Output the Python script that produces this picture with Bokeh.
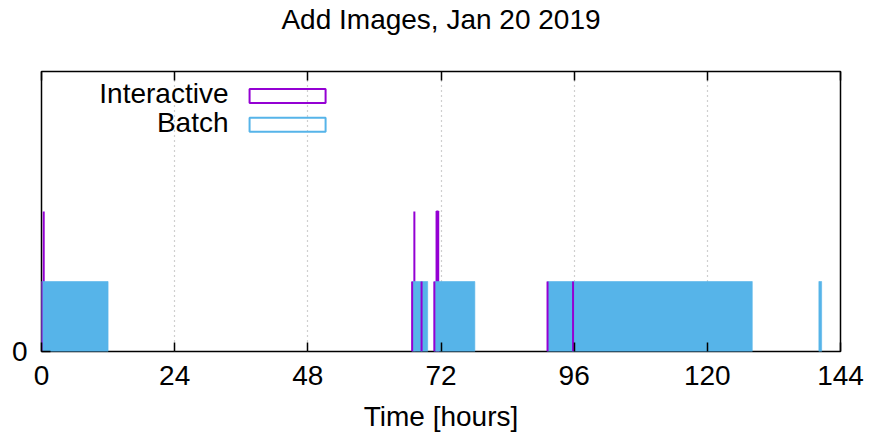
from bokeh.plotting import figure
from bokeh.models import Range1d, FixedTicker, LinearAxis, Label, BoxAnnotation, ColumnDataSource
from bokeh.embed import file_html
from bokeh.resources import INLINE

# ---------------- data ----------------
TITLE = "Add Images, Jan 20 2019"
X_LABEL = "Time [hours]"
X_TICKS = [0, 24, 48, 72, 96, 120, 144]
Y_TICKS = [0]
X_MAX = 144
Y_MAX = 4

batch_start = [0.0, 66.8, 68.5, 70.8, 91.2, 95.8, 140.1]
batch_end = [12.0, 68.5, 69.6, 78.1, 95.8, 128.1, 140.6]
batch_level = [1, 1, 1, 1, 1, 1, 1]

interactive_start = [0.0, 0.4, 66.8, 67.2, 68.5, 70.8, 71.2, 91.2, 95.8]
interactive_end = [0.0, 0.4, 66.8, 67.2, 68.5, 70.8, 71.5, 91.2, 95.8]
interactive_level = [1, 2, 1, 2, 1, 1, 2, 1, 1]

LEGEND_LABELS = ["Interactive", "Batch"]

# ---------------- style ----------------
FONT = "Liberation Sans"
FS = "28px"
PURPLE = "#9400d3"
BLUE = "#56b4e9"

p = figure(width=864, height=434, output_backend="svg", toolbar_location=None,
           x_range=Range1d(0, X_MAX), y_range=Range1d(0, Y_MAX),
           min_border_left=41, min_border_right=24, min_border_top=70, min_border_bottom=82)

p.outline_line_color = "black"
p.outline_line_width = 1.5

# axes
xa = p.xaxis[0]
xa.ticker = FixedTicker(ticks=X_TICKS)
xa.axis_label = X_LABEL
ya = p.yaxis[0]
ya.ticker = FixedTicker(ticks=Y_TICKS)
for ax in (xa, ya):
    ax.axis_line_color = None
    ax.major_tick_in = 9
    ax.major_tick_out = 0
    ax.minor_tick_line_color = None
    ax.major_tick_line_color = "black"
    ax.major_tick_line_width = 1.5
    ax.major_label_text_font = FONT
    ax.major_label_text_font_size = FS
    ax.major_label_text_color = "black"
    ax.axis_label_text_font = FONT
    ax.axis_label_text_font_size = FS
    ax.axis_label_text_font_style = "normal"
    ax.axis_label_text_color = "black"
xa.major_label_standoff = 14
xa.axis_label_standoff = 13
ya.major_label_standoff = 14

# mirrored ticks on top (labels not drawn); the chart title sits on this axis
top = LinearAxis(ticker=FixedTicker(ticks=X_TICKS), axis_line_color=None,
                 major_tick_in=9, major_tick_out=0, major_tick_line_width=1.5,
                 minor_tick_line_color=None, major_label_text_font_size=FS,
                 major_label_text_font=FONT, major_label_text_color=None,
                 major_label_standoff=0,
                 axis_label=TITLE, axis_label_standoff=37,
                 axis_label_text_font=FONT, axis_label_text_font_size=FS,
                 axis_label_text_font_style="normal", axis_label_text_color="black")
p.add_layout(top, "above")

# grid
p.ygrid.grid_line_color = None
p.xgrid.ticker = FixedTicker(ticks=X_TICKS[1:-1])
p.xgrid.grid_line_color = "#a0a0a0"
p.xgrid.grid_line_dash = "1 4"
p.xgrid.grid_line_width = 1.2

# data
tall = ColumnDataSource(dict(
    l=[s for s, h in zip(interactive_start, interactive_level) if h > 1],
    r=[e for e, h in zip(interactive_end, interactive_level) if h > 1],
    t=[h for h in interactive_level if h > 1]))
short = ColumnDataSource(dict(
    l=[s for s, h in zip(interactive_start, interactive_level) if h <= 1],
    r=[e for e, h in zip(interactive_end, interactive_level) if h <= 1],
    t=[h for h in interactive_level if h <= 1]))
batch = ColumnDataSource(dict(l=batch_start, r=batch_end, t=batch_level))

p.quad(left="l", right="r", top="t", bottom=0, source=tall,
       fill_color=None, line_color=PURPLE, line_width=2)
p.quad(left="l", right="r", top="t", bottom=0, source=batch,
       fill_color=BLUE, line_color=BLUE, line_alpha=0.6, line_width=1)
p.quad(left="l", right="r", top="t", bottom=0, source=short,
       fill_color=None, line_color=PURPLE, line_width=2)

# legend (gnuplot style: right-aligned text, then sample box)
leg_text_x = 33.7
leg_text_dy = 0.03
leg_box = (37.5, 51.2)
leg_rows = [3.65, 3.24]
leg_colors = [PURPLE, BLUE]
for lab, yy, col in zip(LEGEND_LABELS, leg_rows, leg_colors):
    p.add_layout(Label(x=leg_text_x, y=yy + leg_text_dy, text=lab, text_align="right",
                       text_baseline="middle", text_font=FONT, text_font_size=FS,
                       text_color="black"))
    p.add_layout(BoxAnnotation(left=leg_box[0], right=leg_box[1],
                               bottom=yy - 0.1, top=yy + 0.1,
                               fill_color=None, line_color=col, line_width=2,
                               line_alpha=1.0))

open("out.html", "w").write(file_html(p, INLINE))
